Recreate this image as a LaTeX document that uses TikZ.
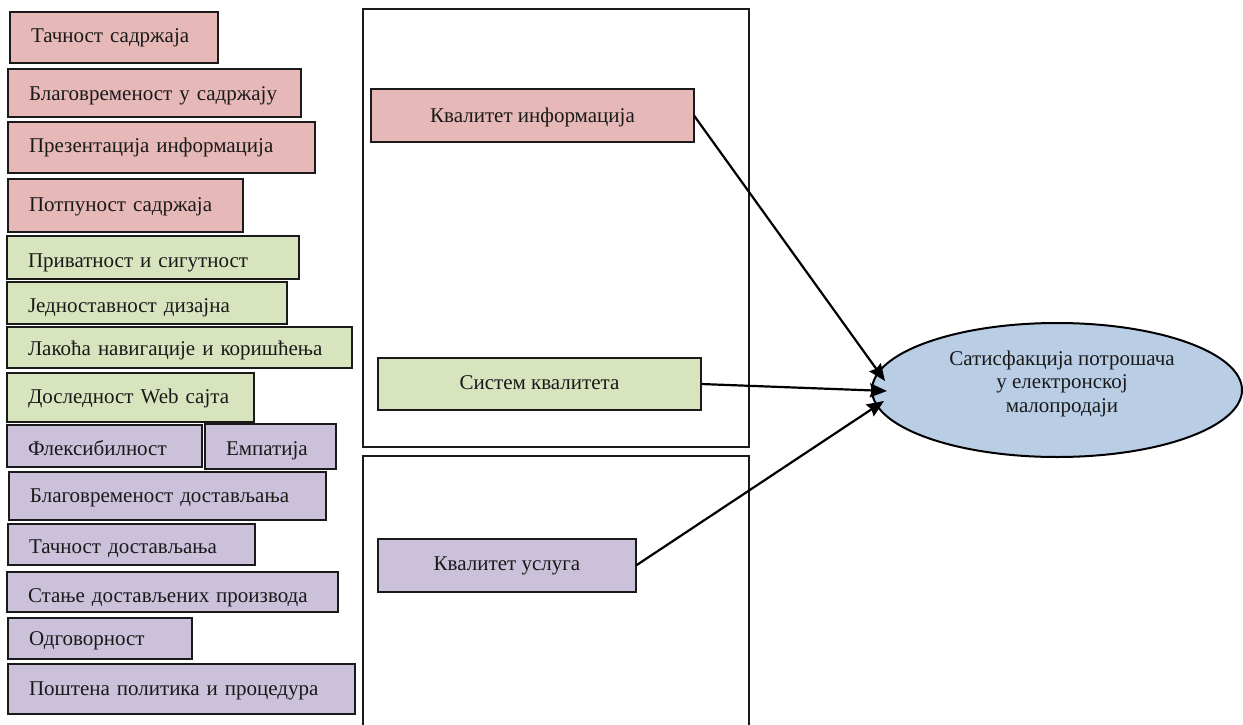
\documentclass[tikz,border=0pt]{standalone}
\usepackage{fontspec}
\setmainfont{Liberation Serif}
\usetikzlibrary{arrows.meta,shapes.geometric}
\definecolor{pinkf}{HTML}{E6B9B8}
\definecolor{greenf}{HTML}{D7E4BD}
\definecolor{purplef}{HTML}{CCC1DA}
\definecolor{bluef}{HTML}{B9CDE5}
\definecolor{edge}{HTML}{1A1A1A}
% name, fill, x, y, text width, text height, text depth, text
\newcommand{\lbx}[8]{\node[lbox, fill=#2, text width=#5pt, text height=#6pt, text depth=#7pt] (#1) at (#3,#4) {\mbox{#8}};}
% name, fill, x, y, width, text height, text depth, text
\newcommand{\cbx}[8]{\node[cbox, fill=#2, minimum width=#5pt, text height=#6pt, text depth=#7pt] (#1) at (#3,#4) {#8};}
\begin{document}
\begin{tikzpicture}[x=1pt,y=-1pt,
  every node/.style={font=\fontsize{21}{23.5}\selectfont, text=black!90},
  lbox/.style={draw=edge, line width=2pt, anchor=north west, inner ysep=0pt, inner xsep=21pt, align=left, outer sep=0pt},
  cbox/.style={draw=edge, line width=2pt, anchor=north west, inner sep=0pt, align=center, outer sep=0pt},
  ell/.style={ellipse, draw=black, line width=2pt, fill=bluef, minimum width=370pt, minimum height=134pt, inner sep=0pt, align=center},
  frame/.style={draw=edge, line width=1.5pt},
  conn/.style={line width=2.2pt, -{Stealth[length=17pt,width=14pt,inset=2pt]}}]
\useasboundingbox (0,0) rectangle (1243,725);
\fill[white] (0,0) rectangle (1243,725);

% frames
\draw[frame] (363,9) rectangle (749,447);
\draw[frame] (363,456) rectangle (749,740);

% left boxes
\lbx{b1}{pinkf}{10}{12}{166}{31}{20}{Тачност садржаја}
\lbx{b2}{pinkf}{8}{69}{251}{31}{17}{Благовременост у садржају}
\lbx{b3}{pinkf}{8}{122}{265}{30}{21}{Презентација информација}
\lbx{b4}{pinkf}{8}{179}{193}{32}{21}{Потпуност садржаја}
\lbx{b5}{greenf}{7}{236}{250}{31}{12}{Приватност и сигутност}
\lbx{b6}{greenf}{7}{282}{238}{30}{12}{Једноставност дизајна}
\lbx{b7}{greenf}{7}{327}{303}{28}{13}{Лакоћа навигације и коришћења}
\lbx{b8}{greenf}{7}{373}{205}{30}{19}{Доследност Web сајта}
\lbx{b9}{purplef}{7}{425}{153}{30}{12}{Флексибилност}
\lbx{b10}{purplef}{205}{424}{89}{31}{14}{Емпатија}
\lbx{b11}{purplef}{9}{472}{275}{30}{18}{Благовременост достављања}
\lbx{b12}{purplef}{8}{524}{205}{29}{12}{Тачност достављања}
\lbx{b13}{purplef}{7}{572}{289}{30}{10}{Стање достављених производа}
\lbx{b14}{purplef}{8}{618}{142}{27}{14}{Одговорност}
\lbx{b15}{purplef}{8}{664}{305}{31}{19}{Поштена политика и процедура}

% middle boxes
\cbx{ki}{pinkf}{371}{89}{323}{33}{20}{Квалитет информација}
\cbx{sk}{greenf}{378}{358}{323}{31}{21}{Систем квалитета}
\cbx{ku}{purplef}{378}{539}{258}{31}{22}{Квалитет услуга}

% ellipse
\node[ell] (e) at (1057,390) {\hspace*{10pt}Сатисфакција потрошача\\\hspace*{10pt}у електронској\\\hspace*{10pt}малопродаји\rule[-17pt]{0pt}{0pt}};

% arrow tips
\coordinate (t1) at (885,381);
\coordinate (t2) at (887,391);
\coordinate (t3) at (884,401);
\draw[conn] (ki.east) -- (t1);
\draw[conn] (sk.east) -- (t2);
\draw[conn] (ku.east) -- (t3);
\end{tikzpicture}
\end{document}
